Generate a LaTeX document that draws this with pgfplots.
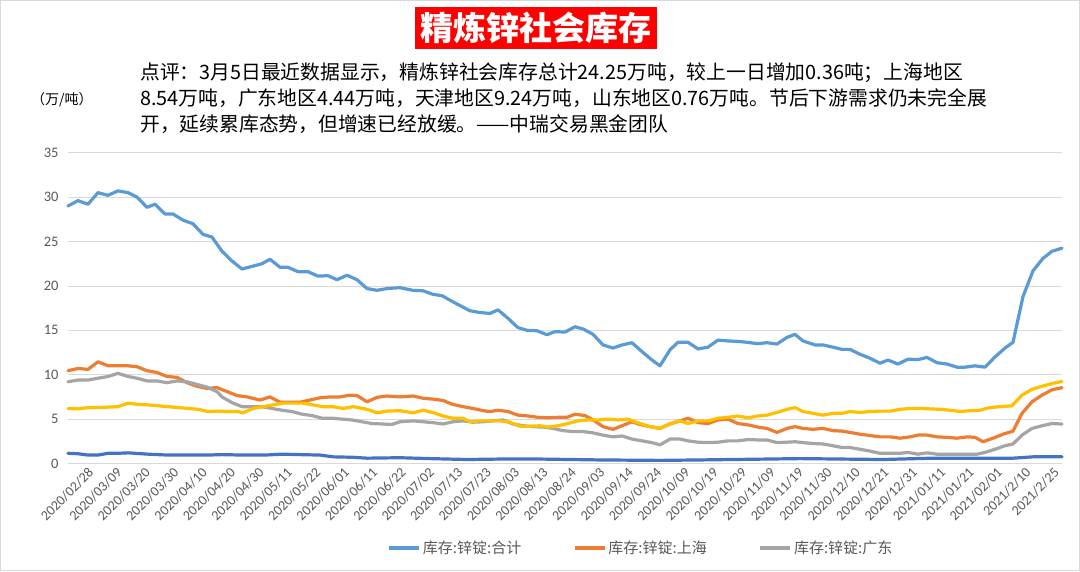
\documentclass[border=0pt]{standalone}
\usepackage{pgfplots}
\pgfplotsset{compat=1.18}
\usepackage{fontspec}
\setmainfont{Carlito}
\newfontfamily\cjk{Noto Sans CJK SC}
\definecolor{cTot}{HTML}{5B9BD5}
\definecolor{cSH}{HTML}{ED7D31}
\definecolor{cGD}{HTML}{A5A5A5}
\definecolor{cTJ}{HTML}{FFC000}
\definecolor{cSD}{HTML}{4472C4}
\definecolor{txt}{HTML}{595959}
\definecolor{gridc}{HTML}{D9D9D9}
\definecolor{titlered}{HTML}{FF0000}
\begin{document}
\begin{tikzpicture}[x=1pt,y=1pt]
\useasboundingbox (0,0) rectangle (1080,571);
\fill[white] (0,0) rectangle (1080,571);
\draw[gridc, line width=1pt] (0.5,0.5) rectangle (1079.5,570.5);
\fill[titlered] (415,522) rectangle (657,564);
\node[text=white, inner sep=0pt] at (536,543) {\cjk\bfseries\fontsize{33}{33}\selectfont 精炼锌社会库存};
\node[anchor=base west, inner sep=0pt] at (140,491) {\cjk\fontsize{19.8}{20}\selectfont 点评：3月5日最近数据显示，精炼锌社会库存总计24.25万吨，较上一日增加0.36吨；上海地区};
\node[anchor=base west, inner sep=0pt] at (140,465) {\cjk\fontsize{19.8}{20}\selectfont 8.54万吨，广东地区4.44万吨，天津地区9.24万吨，山东地区0.76万吨。节后下游需求仍未完全展};
\node[anchor=base west, inner sep=0pt] at (140,439) {\cjk\fontsize{19.8}{20}\selectfont 开，延续累库态势，但增速已经放缓。——中瑞交易黑金团队};
\node[anchor=west, inner sep=0pt] at (31,471) {\cjk\fontsize{14}{15}\selectfont （万/吨）};
\begin{axis}[
  at={(68pt,107.5pt)}, anchor=south west,
  scale only axis, width=994pt, height=310.8pt,
  xmin=68, xmax=1062, ymin=0, ymax=35,
  ytick={0,5,...,35},
  xtick={68,96.4,...,1040},
  xticklabels={2020/02/28,2020/03/09,2020/03/20,2020/03/30,2020/04/10,2020/04/20,2020/04/30,2020/05/11,2020/05/22,2020/06/01,2020/06/11,2020/06/22,2020/07/02,2020/07/13,2020/07/23,2020/08/03,2020/08/13,2020/08/24,2020/09/03,2020/09/14,2020/09/24,2020/10/09,2020/10/19,2020/10/29,2020/11/09,2020/11/19,2020/11/30,2020/12/10,2020/12/21,2020/12/31,2021/01/11,2021/01/21,2021/02/01,2021/2/10,2021/2/25},
  axis line style={draw=none},
  major tick length=0pt,
  ymajorgrids, grid style={gridc, line width=0.8pt},
  tick label style={text=txt},
  yticklabel style={font=\fontsize{14.5}{16}\selectfont, xshift=-6pt},
  xticklabel style={font=\fontsize{14}{15}\selectfont, rotate=45, anchor=east, xshift=15pt, yshift=-21pt},
  /pgf/number format/assume math mode=true,
  clip=false,
  every axis plot/.append style={line width=3.2pt, line join=round, line cap=round},
  legend style={at={(0.5765,-0.272)}, anchor=center, draw=none, fill=none,
     font=\cjk\fontsize{15}{16}\selectfont, text=txt,
     /tikz/every even column/.append style={column sep=50pt}},
  legend columns=3,
  legend image code/.code={\draw[#1, line width=3.2pt, line cap=butt] (0pt,0pt) -- (30pt,0pt);},
]
\addplot[cTot] coordinates {(68,29.0)(78,29.6)(88,29.2)(98,30.5)(108,30.2)(118,30.7)(128,30.5)(137,30.0)(147,28.85)(155,29.2)(165,28.1)(173,28.1)(183,27.4)(193,27.0)(203,25.8)(212,25.5)(222,23.9)(232,22.8)(242,21.9)(252,22.2)(262,22.5)(270,23.0)(280,22.1)(288,22.1)(298,21.6)(308,21.6)(318,21.1)(328,21.15)(337,20.7)(347,21.2)(357,20.7)(367,19.7)(377,19.5)(387,19.7)(400,19.8)(413,19.5)(423,19.45)(433,19.05)(442,18.9)(453,18.2)(470,17.2)(480,17.0)(490,16.9)(498,17.3)(508,16.35)(518,15.3)(527,15.0)(537,14.95)(547,14.5)(555,14.85)(565,14.8)(575,15.4)(583,15.15)(593,14.55)(603,13.35)(613,13.0)(622,13.35)(632,13.6)(642,12.6)(652,11.65)(660,11.0)(670,12.8)(678,13.65)(688,13.65)(698,12.9)(708,13.1)(718,13.9)(728,13.8)(738,13.75)(747,13.65)(757,13.5)(767,13.6)(777,13.45)(787,14.2)(795,14.55)(803,13.8)(815,13.35)(823,13.35)(833,13.1)(842,12.85)(850,12.85)(860,12.3)(870,11.85)(880,11.3)(888,11.65)(898,11.2)(908,11.75)(918,11.7)(927,11.95)(937,11.35)(947,11.2)(957,10.85)(965,10.85)(975,11.0)(985,10.85)(995,12.0)(1005,13.0)(1013,13.65)(1023,18.8)(1033,21.7)(1043,23.1)(1052,23.9)(1062,24.25)};
\addlegendentry{库存:锌锭:合计}
\addplot[cSH] coordinates {(68,10.45)(78,10.7)(88,10.6)(98,11.45)(108,11.0)(118,11.0)(128,11.0)(137,10.9)(147,10.45)(157,10.25)(167,9.8)(177,9.7)(187,9.1)(197,8.7)(207,8.45)(217,8.55)(227,8.1)(237,7.65)(247,7.5)(260,7.15)(270,7.5)(280,6.9)(290,6.9)(300,6.9)(310,7.15)(320,7.4)(330,7.5)(340,7.5)(350,7.7)(357,7.65)(367,6.95)(377,7.45)(387,7.6)(400,7.5)(413,7.6)(423,7.35)(433,7.25)(443,7.1)(453,6.65)(463,6.4)(473,6.2)(483,5.95)(490,5.85)(498,6.0)(508,5.85)(518,5.45)(528,5.35)(538,5.2)(548,5.15)(558,5.2)(567,5.2)(575,5.55)(585,5.4)(593,4.9)(603,4.15)(613,3.85)(622,4.25)(632,4.7)(640,4.4)(650,4.15)(660,3.95)(670,4.45)(680,4.8)(688,5.1)(698,4.6)(708,4.5)(718,4.9)(728,5.0)(738,4.5)(748,4.35)(758,4.1)(767,3.95)(777,3.5)(787,3.95)(795,4.15)(803,3.95)(813,3.85)(823,3.95)(833,3.7)(842,3.65)(850,3.5)(860,3.3)(870,3.15)(880,3.0)(890,3.0)(900,2.85)(910,3.0)(918,3.2)(927,3.2)(937,3.0)(947,2.95)(957,2.85)(967,3.0)(975,2.95)(983,2.45)(993,2.85)(1003,3.3)(1013,3.65)(1022,5.65)(1032,6.95)(1042,7.7)(1052,8.3)(1062,8.54)};
\addlegendentry{库存:锌锭:上海}
\addplot[cGD] coordinates {(68,9.2)(78,9.4)(88,9.4)(98,9.6)(108,9.8)(118,10.15)(128,9.8)(137,9.6)(147,9.3)(157,9.3)(167,9.1)(177,9.3)(187,9.2)(197,8.9)(207,8.6)(217,8.1)(222,7.5)(232,6.85)(242,6.4)(252,6.4)(262,6.4)(272,6.2)(282,6.0)(292,5.85)(302,5.55)(312,5.4)(322,5.1)(332,5.1)(342,5.0)(352,4.9)(362,4.7)(372,4.5)(382,4.45)(392,4.4)(400,4.7)(413,4.8)(423,4.7)(433,4.6)(443,4.45)(453,4.7)(463,4.8)(473,4.65)(483,4.7)(493,4.8)(503,4.9)(513,4.45)(523,4.25)(533,4.15)(543,4.1)(553,3.95)(563,3.7)(573,3.6)(583,3.6)(593,3.45)(603,3.2)(613,3.0)(622,3.1)(632,2.75)(642,2.55)(652,2.35)(660,2.1)(670,2.75)(680,2.75)(688,2.55)(698,2.4)(708,2.35)(718,2.4)(728,2.55)(738,2.55)(748,2.7)(758,2.65)(767,2.65)(777,2.35)(787,2.4)(795,2.45)(803,2.35)(813,2.25)(823,2.2)(833,2.0)(842,1.8)(850,1.8)(860,1.6)(870,1.4)(880,1.15)(890,1.15)(900,1.15)(908,1.25)(918,1.05)(927,1.2)(937,1.05)(947,1.05)(957,1.05)(967,1.05)(977,1.05)(985,1.25)(995,1.6)(1005,2.0)(1013,2.2)(1022,3.2)(1032,3.95)(1042,4.25)(1052,4.5)(1062,4.44)};
\addlegendentry{库存:锌锭:广东}
\addplot[cTJ, forget plot] coordinates {(68,6.2)(78,6.15)(88,6.3)(98,6.3)(108,6.35)(118,6.4)(128,6.8)(138,6.65)(148,6.6)(158,6.5)(168,6.4)(178,6.3)(188,6.2)(198,6.1)(208,5.85)(218,5.9)(228,5.85)(238,5.85)(243,5.7)(253,6.2)(263,6.4)(273,6.6)(283,6.8)(293,6.8)(303,6.8)(313,6.6)(323,6.4)(333,6.4)(343,6.2)(353,6.4)(363,6.2)(370,6.0)(377,5.7)(387,5.9)(400,5.95)(413,5.7)(423,6.0)(433,5.75)(443,5.35)(453,5.1)(463,5.1)(470,4.7)(480,4.8)(490,4.8)(500,4.8)(510,4.65)(520,4.2)(530,4.2)(540,4.25)(548,4.1)(558,4.25)(568,4.5)(578,4.8)(588,4.9)(598,4.9)(608,5.0)(618,4.9)(628,5.0)(635,4.7)(647,4.25)(660,3.95)(670,4.5)(680,4.8)(688,4.5)(698,4.8)(708,4.8)(718,5.1)(728,5.2)(737,5.35)(748,5.15)(758,5.35)(767,5.45)(777,5.75)(787,6.1)(795,6.3)(803,5.85)(813,5.65)(823,5.45)(833,5.65)(842,5.65)(850,5.85)(860,5.75)(870,5.85)(880,5.9)(890,5.9)(900,6.1)(910,6.2)(920,6.2)(930,6.15)(940,6.1)(950,6.0)(960,5.85)(970,5.95)(980,6.0)(990,6.3)(1000,6.4)(1012,6.5)(1022,7.7)(1032,8.35)(1042,8.7)(1052,9.0)(1062,9.24)};
\addplot[cSD, forget plot] coordinates {(68,1.15)(78,1.1)(88,0.95)(98,0.95)(108,1.15)(118,1.15)(128,1.2)(148,1.05)(168,0.95)(188,0.95)(208,0.95)(222,1.0)(243,0.95)(265,0.95)(282,1.05)(300,1.0)(320,0.95)(333,0.75)(353,0.7)(367,0.6)(400,0.65)(430,0.55)(467,0.45)(500,0.5)(540,0.5)(600,0.4)(660,0.35)(700,0.4)(733,0.45)(767,0.5)(800,0.55)(883,0.45)(933,0.6)(983,0.6)(1013,0.6)(1033,0.75)(1062,0.76)};
\end{axis}
\end{tikzpicture}
\end{document}
